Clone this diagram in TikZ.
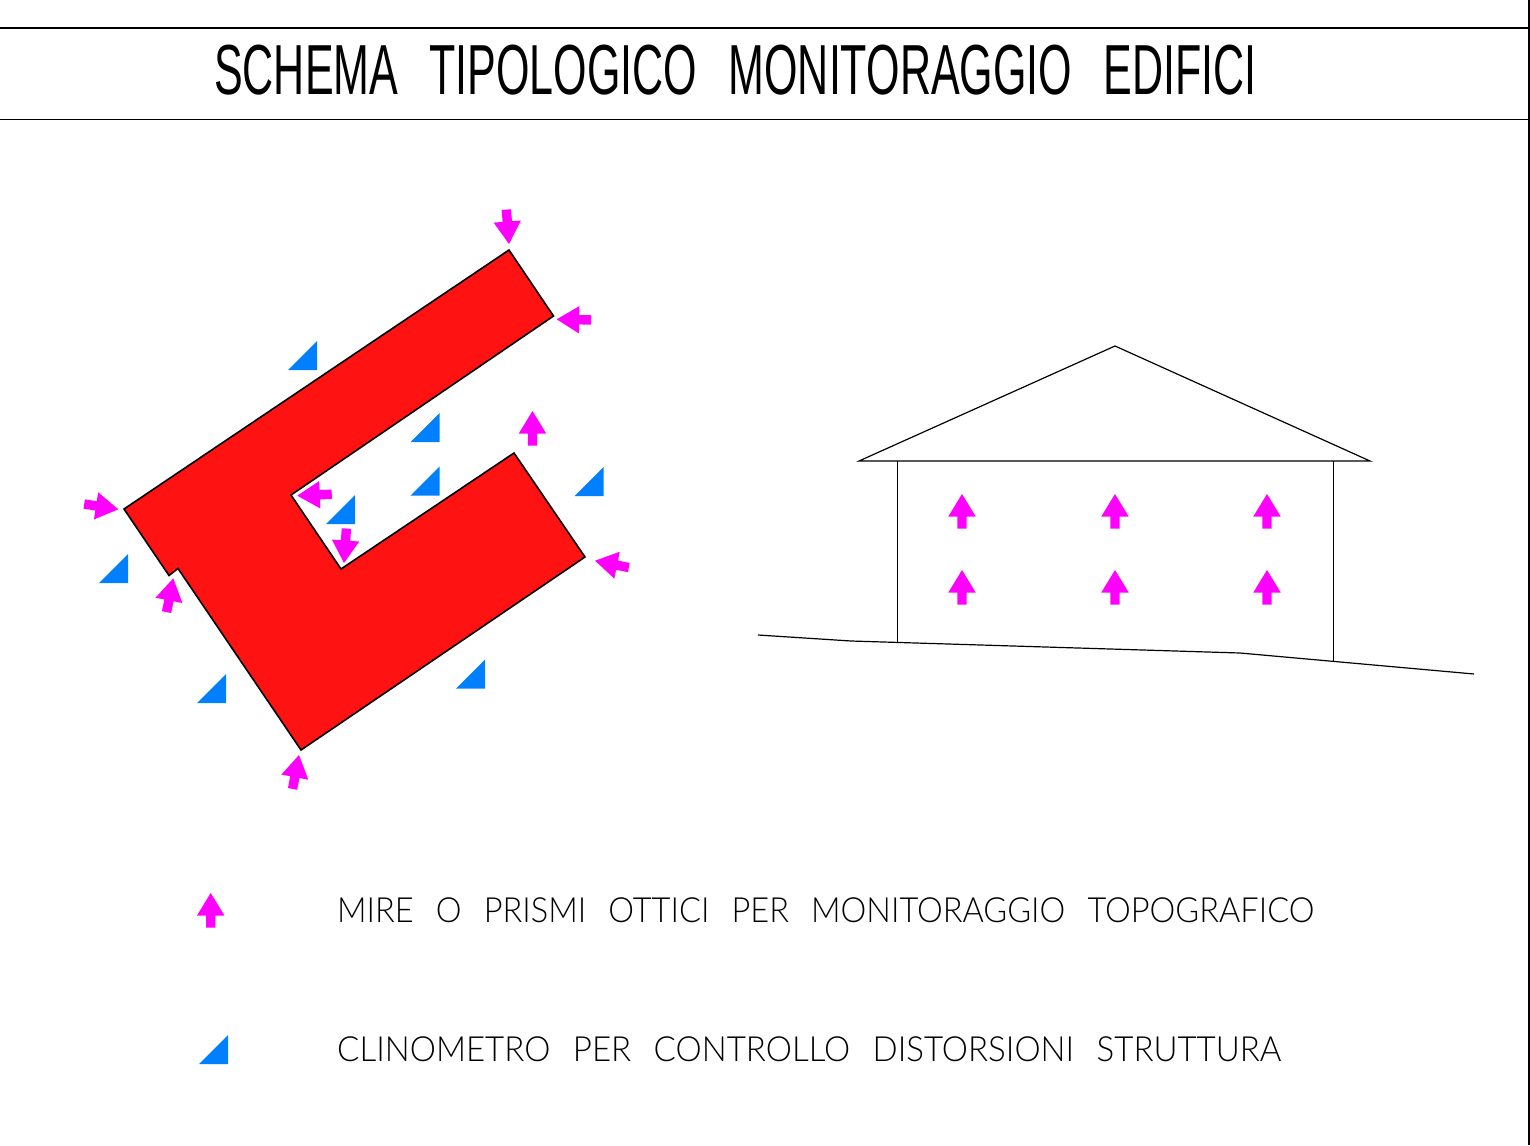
\documentclass[tikz,border=0pt]{standalone}
\usepackage{fontspec}
\setmainfont{Liberation Sans}
\newfontfamily\legendfont{Lato Light}
\definecolor{planred}{HTML}{FF1212}
\definecolor{mira}{HTML}{FF00FF}
\definecolor{clino}{HTML}{0080FF}
\tikzset{
  thinline/.style={draw=black,line width=1.2pt,line join=miter},
  edgeline/.style={draw=black,line width=2pt},
  planshape/.style={draw=black,line width=1.6pt,fill=planred,line join=miter},
  mirashape/.style={fill=mira,draw=none},
  clinoshape/.style={fill=clino,draw=none},
  titletext/.style={inner sep=0pt,anchor=base west,text=black},
  legendtext/.style={inner sep=0pt,anchor=base west,text=black}
}
\newcommand{\mire}[3]{\path[mirashape,shift={(#1,#2)},rotate=#3] (0,0)--(13.7,22.5)--(4.7,22.5)--(4.7,34.5)--(-4.7,34.5)--(-4.7,22.5)--(-13.7,22.5)--cycle;}
\newcommand{\clin}[2]{\path[clinoshape,shift={(#1,#2)}] (0,0)--(0,-28.8)--(-28.8,0)--cycle;}
\begin{document}
\begin{tikzpicture}[x=1pt,y=-1pt]
\useasboundingbox (0,0) rectangle (1530,1145);
\fill[white] (0,0) rectangle (1530,1145);
\coordinate (tl) at (0,28); \coordinate (tr) at (1529,28);
\coordinate (ml) at (0,119.5); \coordinate (mr) at (1529,119.5);
\coordinate (rt) at (1529,0); \coordinate (rb) at (1529,1145);
\draw[thinline] (tl)--(tr) (ml)--(mr);
\draw[edgeline] (rt)--(rb);
\node[titletext] (title) at (214,95) {\resizebox{1042pt}{49.5pt}{SCHEMA\hspace{.73em}TIPOLOGICO\hspace{.73em}MONITORAGGIO\hspace{.73em}EDIFICI}};
\node[legendtext] (leg1) at (337,922) {\resizebox{977pt}{24.8pt}{\legendfont MIRE\hspace{.68em}O\hspace{.68em}PRISMI\hspace{.68em}OTTICI\hspace{.68em}PER\hspace{.68em}MONITORAGGIO\hspace{.68em}TOPOGRAFICO}};
\node[legendtext] (leg2) at (337,1061) {\resizebox{944pt}{24.8pt}{\legendfont CLINOMETRO\hspace{.68em}PER\hspace{.68em}CONTROLLO\hspace{.68em}DISTORSIONI\hspace{.68em}STRUTTURA}};
% plan
\draw[planshape] (509,250)--(553.5,316)--(291,495)--(341,569)--(514,453)--(585,557)--(301,750)--(178,568.5)--(169,575.5)--(124,509)--cycle;
% house
\draw[thinline] (859,461)--(1115,346)--(1370,461)--cycle;
\draw[thinline] (897.5,461)--(897.5,642) (1333.5,461)--(1333.5,661);
\draw[thinline] (758,635)--(851,641)--(1240,653)--(1474,674);
% clinometers
\clin{317}{370}\clin{439.5}{442}\clin{439.5}{495.5}\clin{355}{524}\clin{603.5}{496}\clin{128}{583}\clin{226}{703}\clin{485}{688.5}\clin{228}{1064}
% mire
\mire{962}{494}{0}\mire{1115}{494}{0}\mire{1267}{494}{0}
\mire{962}{570}{0}\mire{1115}{570}{0}\mire{1267}{570}{0}
\mire{210.7}{893}{0}
\mire{532.5}{411}{0}
\mire{509}{244}{184.4}
\mire{556.7}{319.3}{88.9}
\mire{297.3}{495.7}{92.4}
\mire{344}{563}{176}
\mire{595}{560.7}{78.5}
\mire{118.3}{509.3}{-98.8}
\mire{173.3}{578.3}{-11.2}
\mire{299}{755}{-10.7}
\end{tikzpicture}
\end{document}
